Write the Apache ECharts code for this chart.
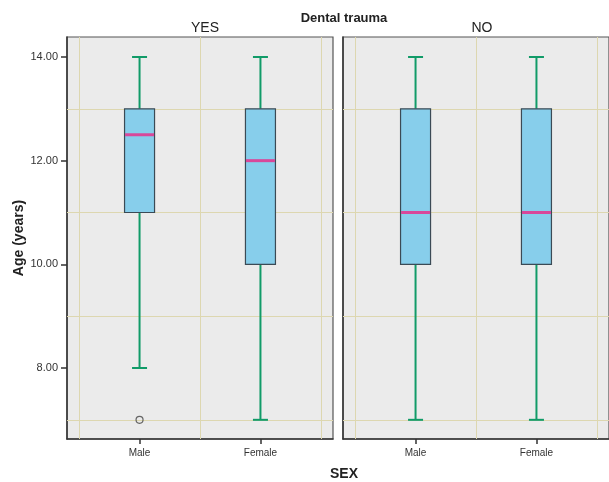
<!DOCTYPE html>
<html><head><meta charset="utf-8">
<script src="https://cdn.jsdelivr.net/npm/echarts@6/dist/echarts.min.js"></script>
<style>html,body{margin:0;padding:0;background:#fff}#c{width:609px;height:482px}</style>
</head><body><div id="c"></div>
<script>
// ---- data ----
const categories = ['Male', 'Female'];
const panels = ['YES', 'NO'];
// [min, Q1, median, Q3, max]
const yesBoxes = [[8, 11, 12.5, 13, 14], [7, 10, 12, 13, 14]];
const noBoxes = [[7, 10, 11, 13, 14], [7, 10, 11, 13, 14]];
const yesOutliers = [[0, 7]]; // [category index, value]
const noOutliers = [];
const yTicks = [8, 10, 12, 14];
const yMinorGrid = [7, 9, 11, 13];
const xGrid = [-0.5, 0.5, 1.5];

const chart = echarts.init(document.getElementById('c'), null, {renderer: 'canvas'});
const FONT = 'Liberation Sans, Arial, sans-serif';

function boxRender(params, api) {
  const x = api.value(0);
  const pMin = api.coord([x, api.value(1)]);
  const pQ1 = api.coord([x, api.value(2)]);
  const pMed = api.coord([x, api.value(3)]);
  const pQ3 = api.coord([x, api.value(4)]);
  const pMax = api.coord([x, api.value(5)]);
  const hw = 15, cw = 7.5;
  const green = '#119b68';
  const children = [
    {type: 'line', shape: {x1: pMin[0], y1: pMin[1], x2: pQ1[0], y2: pQ1[1]}, style: {stroke: green, lineWidth: 2}},
    {type: 'line', shape: {x1: pQ3[0], y1: pQ3[1], x2: pMax[0], y2: pMax[1]}, style: {stroke: green, lineWidth: 2}},
    {type: 'line', shape: {x1: pMin[0] - cw, y1: pMin[1], x2: pMin[0] + cw, y2: pMin[1]}, style: {stroke: green, lineWidth: 2}},
    {type: 'line', shape: {x1: pMax[0] - cw, y1: pMax[1], x2: pMax[0] + cw, y2: pMax[1]}, style: {stroke: green, lineWidth: 2}},
    {type: 'rect', shape: {x: pQ3[0] - hw, y: pQ3[1], width: 2 * hw, height: pQ1[1] - pQ3[1]}, style: {fill: '#87ceeb', stroke: '#3b4a55', lineWidth: 1.2}},
    {type: 'line', shape: {x1: pMed[0] - hw + 0.5, y1: pMed[1], x2: pMed[0] + hw - 0.5, y2: pMed[1]}, style: {stroke: '#d8489a', lineWidth: 3}}
  ];
  return {type: 'group', children};
}

const grids = [
  {left: 67, top: 37, width: 266, bottom: 43},
  {left: 343, top: 37, width: 268, bottom: 43}
];

function gridLines() {
  const d = [];
  xGrid.forEach(v => d.push({xAxis: v}));
  yMinorGrid.forEach(v => d.push({yAxis: v}));
  return d;
}

const xAxes = grids.map((g, i) => ({
  type: 'value', gridIndex: i, min: -0.6, max: 1.6,
  axisLine: {show: true, onZero: false, lineStyle: {color: '#333', width: 1.5}},
  axisTick: {show: true, customValues: [0, 1], length: 5, lineStyle: {color: '#333', width: 1.5}},
  axisLabel: {show: true, customValues: [0, 1], formatter: v => categories[Math.round(v)], color: '#333', fontSize: 10, fontFamily: FONT, margin: 9},
  splitLine: {show: false}
}));
const yAxes = grids.map((g, i) => ({
  type: 'value', gridIndex: i, min: 6.63, max: 14.386,
  name: i === 0 ? 'Age (years)' : '', nameLocation: 'middle', nameGap: 41,
  nameTextStyle: {fontWeight: 'bold', fontSize: 14, color: '#222', fontFamily: FONT},
  axisLine: {show: true, onZero: false, lineStyle: {color: '#333', width: 1.5}},
  axisTick: {show: i === 0, customValues: yTicks, length: 6, lineStyle: {color: '#333', width: 1.5}},
  axisLabel: {show: i === 0, customValues: yTicks, formatter: v => v.toFixed(2), color: '#333', fontSize: 11, fontFamily: FONT, margin: 9},
  splitLine: {show: false}
}));

const series = [];
[yesBoxes, noBoxes].forEach((boxes, i) => {
  series.push({
    type: 'custom', xAxisIndex: i, yAxisIndex: i, z: 3,
    renderItem: boxRender,
    data: boxes.map((b, k) => [k].concat(b)),
    markLine: {silent: true, symbol: 'none', label: {show: false}, animation: false,
      lineStyle: {color: '#ddd7b0', width: 1, type: 'solid'}, z: 1, data: gridLines()}
  });
});
[yesOutliers, noOutliers].forEach((outs, i) => {
  series.push({
    type: 'scatter', xAxisIndex: i, yAxisIndex: i, z: 4,
    symbol: 'circle', symbolSize: 7,
    itemStyle: {color: 'rgba(0,0,0,0)', borderColor: '#444', borderWidth: 1.2},
    data: outs
  });
});

chart.setOption({
  animation: false,
  backgroundColor: '#ffffff',
  title: [
    {text: 'Dental trauma', left: 339, top: 7, textAlign: 'center', textStyle: {fontSize: 13, fontWeight: 'bold', color: '#222', fontFamily: FONT}},
    {text: panels[0], left: 200, top: 16, textAlign: 'center', textStyle: {fontSize: 14, fontWeight: 'normal', color: '#222', fontFamily: FONT}},
    {text: panels[1], left: 477, top: 16, textAlign: 'center', textStyle: {fontSize: 14, fontWeight: 'normal', color: '#222', fontFamily: FONT}},
    {text: 'SEX', left: 339, top: 462, textAlign: 'center', textStyle: {fontSize: 14, fontWeight: 'bold', color: '#222', fontFamily: FONT}}
  ],
  grid: grids.map(g => Object.assign({show: true, backgroundColor: '#ebebeb', borderColor: '#555', borderWidth: 1.2}, g)),
  xAxis: xAxes,
  yAxis: yAxes,
  series
});
</script></body></html>
